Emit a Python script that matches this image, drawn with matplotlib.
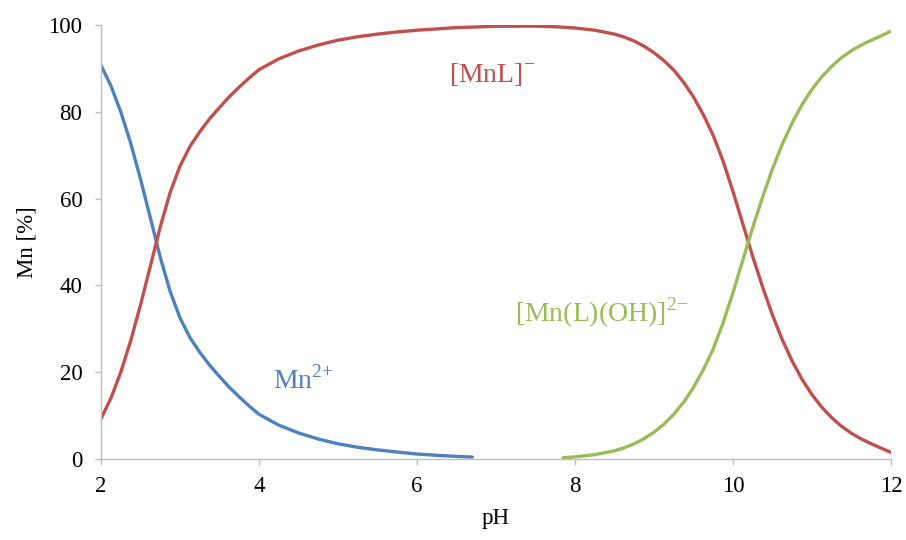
import matplotlib
matplotlib.use("Agg")
import matplotlib.pyplot as plt

# Mn2+
ph_mn = [2.0, 2.125, 2.25, 2.375, 2.5, 2.625, 2.75, 2.875, 3.0, 3.125, 3.25, 3.375,
         3.5, 3.625, 3.75, 3.875, 4.0, 4.25, 4.5, 4.75, 5.0, 5.25, 5.5, 5.75,
         6.0, 6.25, 6.5, 6.7]
mn = [90.7, 86.0, 80.0, 72.8, 64.5, 55.5, 46.5, 38.6, 32.5, 28.0, 24.6, 21.6,
      19.0, 16.5, 14.3, 12.2, 10.3, 7.8, 6.0, 4.6, 3.5, 2.7, 2.1, 1.6,
      1.15, 0.85, 0.6, 0.45]

# [MnL]-
ph_mnl = [2.0, 2.125, 2.25, 2.375, 2.5, 2.625, 2.75, 2.875, 3.0, 3.125, 3.25, 3.375,
          3.5, 3.625, 3.75, 3.875, 4.0, 4.25, 4.5, 4.75, 5.0, 5.25, 5.5, 5.75,
          6.0, 6.25, 6.5, 7.0, 7.5, 7.75, 8.0, 8.25, 8.5, 8.625, 8.75, 8.875,
          9.0, 9.125, 9.25, 9.375, 9.5, 9.625, 9.75, 9.875, 10.0, 10.125,
          10.25, 10.375, 10.5, 10.625, 10.75, 10.875, 11.0, 11.125, 11.25,
          11.375, 11.5, 11.625, 11.75, 11.875, 12.0]
mnl = [9.3, 14.0, 20.0, 27.2, 35.5, 44.5, 53.5, 61.4, 67.5, 72.0, 75.4, 78.4,
       81.0, 83.5, 85.7, 87.8, 89.7, 92.2, 94.0, 95.4, 96.5, 97.3, 97.9, 98.4,
       98.8, 99.1, 99.4, 99.7, 99.75, 99.6, 99.3, 98.8, 97.9, 97.2, 96.3, 95.1,
       93.6, 91.8, 89.6, 86.8, 83.4, 79.3, 74.5, 68.6, 61.6, 54.1,
       46.6, 39.6, 33.1, 27.4, 22.5, 18.3, 14.8, 11.9, 9.5,
       7.5, 5.9, 4.6, 3.5, 2.5, 1.5]

# [Mn(L)(OH)]2-
ph_oh = [7.85, 8.0, 8.25, 8.5, 8.625, 8.75, 8.875, 9.0, 9.125, 9.25, 9.375, 9.5,
         9.625, 9.75, 9.875, 10.0, 10.125, 10.25, 10.375, 10.5, 10.625, 10.75,
         10.875, 11.0, 11.125, 11.25, 11.375, 11.5, 11.625, 11.75, 11.875, 12.0]
mnloh = [0.3, 0.5, 1.0, 1.9, 2.6, 3.5, 4.7, 6.2, 8.0, 10.3, 13.1, 16.5,
         20.6, 25.4, 31.4, 38.4, 45.9, 53.4, 60.4, 66.9, 72.6, 77.5,
         81.7, 85.2, 88.1, 90.5, 92.5, 94.1, 95.4, 96.5, 97.5, 98.6]

plt.rcParams["font.family"] = ["Liberation Serif", "DejaVu Serif"]
plt.rcParams["mathtext.fontset"] = "custom"
plt.rcParams["mathtext.rm"] = "Liberation Serif"

BLUE = "#4F81BD"
RED = "#C0504D"
GREEN = "#9BBB59"
GRAY = "#BFBFBF"

fig = plt.figure(figsize=(9.06, 5.4), dpi=100)
ax = fig.add_axes([0.1115, 0.15, 0.872, 0.8037])

ax.plot(ph_mn, mn, color=BLUE, lw=2.4, solid_capstyle="round")
ax.plot(ph_mnl, mnl, color=RED, lw=2.4, solid_capstyle="round")
ax.plot(ph_oh, mnloh, color=GREEN, lw=2.4, solid_capstyle="round")

ax.set_xlim(2, 12)
ax.set_ylim(0, 100)
ax.set_xticks(range(2, 13, 2))
ax.set_yticks(range(0, 101, 20))

for s in ["top", "right"]:
    ax.spines[s].set_visible(False)
for s in ["left", "bottom"]:
    ax.spines[s].set_color(GRAY)
    ax.spines[s].set_linewidth(1.0)
ax.tick_params(direction="out", length=4.5, width=1, color=GRAY, labelsize=16.5)
ax.tick_params(axis="x", pad=8)
ax.tick_params(axis="y", pad=9)

ax.set_xlabel("pH", fontsize=16.5, labelpad=8)
ax.set_ylabel("Mn [%]", fontsize=16.5, labelpad=8)

ax.text(6.95, 88.7, r"[MnL]$^{\mathrm{{-}}}$", color=RED, fontsize=20, ha="center", va="center")
ax.text(4.56, 18.2, r"Mn$^{\mathrm{2{+}}}$", color=BLUE, fontsize=20, ha="center", va="center")
ax.text(8.34, 33.6, r"[Mn(L)(OH)]$^{\mathrm{2{-}}}$", color=GREEN, fontsize=20, ha="center", va="center")

fig.savefig("out.png", dpi=100)
